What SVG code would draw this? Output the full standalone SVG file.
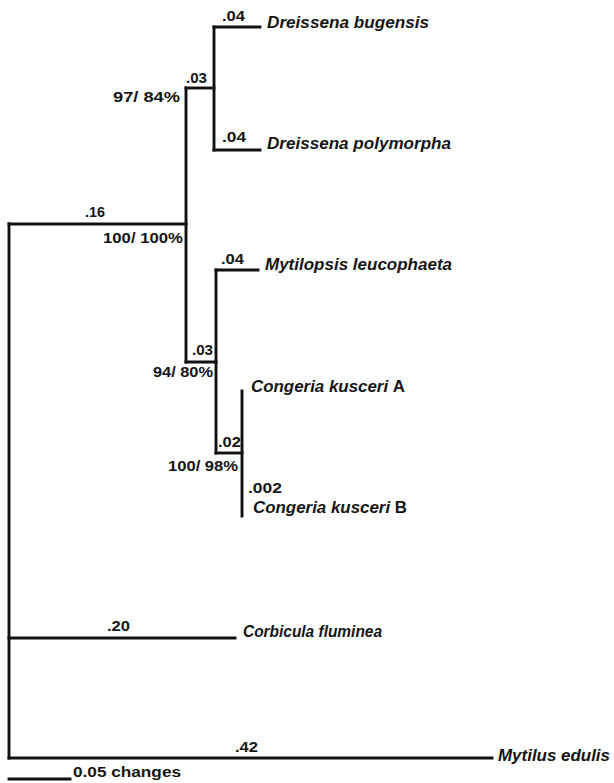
<svg xmlns="http://www.w3.org/2000/svg" width="614" height="783" viewBox="0 0 614 783">
<style>
.br{stroke:#111;stroke-width:2.9;fill:none;stroke-linecap:square}
text{font-family:"Liberation Sans",Arial,Helvetica,sans-serif;font-weight:bold;fill:#151515}
.sp{font-size:16px;font-style:italic}
.up{font-style:normal}
.num{font-size:14.5px}
</style>
<rect width="614" height="783" fill="#fff"/>
<g id="connectors">
<path class="br" d="M9,224 V758"/>
<path class="br" d="M9,224 H186"/>
<path class="br" d="M186,88 V362"/>
<path class="br" d="M186,88 H214"/>
<path class="br" d="M214,27 V150"/>
<path class="br" d="M214,27 H260"/>
<path class="br" d="M214,150 H260"/>
<path class="br" d="M186,362 H216"/>
<path class="br" d="M216,270 V453"/>
<path class="br" d="M216,270 H258"/>
<path class="br" d="M216,453 H242"/>
<path class="br" d="M242,391 V516"/>
<path class="br" d="M9,638 H235"/>
<path class="br" d="M9,758 H492"/>
</g>
<g id="node-dreissena-bugensis"><text class="sp" x="267" y="28" textLength="162" lengthAdjust="spacingAndGlyphs">Dreissena bugensis</text><text class="num" x="222" y="21" textLength="23" lengthAdjust="spacingAndGlyphs">.04</text></g>
<g id="node-dreissena-polymorpha"><text class="sp" x="267" y="149" textLength="184" lengthAdjust="spacingAndGlyphs">Dreissena polymorpha</text><text class="num" x="222" y="142" textLength="24" lengthAdjust="spacingAndGlyphs">.04</text></g>
<g id="node-dreissena"><text class="num" x="186" y="83" textLength="21" lengthAdjust="spacingAndGlyphs">.03</text><text class="num" x="113" y="102" textLength="67" lengthAdjust="spacingAndGlyphs">97/ 84%</text></g>
<g id="node-dreissenidae"><text class="num" x="85" y="217" textLength="20" lengthAdjust="spacingAndGlyphs">.16</text><text class="num" x="103" y="243" textLength="80" lengthAdjust="spacingAndGlyphs">100/ 100%</text></g>
<g id="node-mytilopsis-leucophaeta"><text class="sp" x="265" y="270" textLength="187" lengthAdjust="spacingAndGlyphs">Mytilopsis leucophaeta</text><text class="num" x="221" y="264" textLength="23" lengthAdjust="spacingAndGlyphs">.04</text></g>
<g id="node-mytilopsis-congeria"><text class="num" x="192" y="355" textLength="21" lengthAdjust="spacingAndGlyphs">.03</text><text class="num" x="153" y="377" textLength="60" lengthAdjust="spacingAndGlyphs">94/ 80%</text></g>
<g id="node-congeria"><text class="num" x="218" y="447" textLength="23" lengthAdjust="spacingAndGlyphs">.02</text><text class="num" x="168" y="471" textLength="70" lengthAdjust="spacingAndGlyphs">100/ 98%</text></g>
<g id="node-congeria-kusceri-a"><text class="sp" x="251" y="392" textLength="154" lengthAdjust="spacingAndGlyphs">Congeria kusceri <tspan class="up">A</tspan></text></g>
<g id="node-congeria-kusceri-b"><text class="num" x="248" y="493" textLength="34" lengthAdjust="spacingAndGlyphs">.002</text><text class="sp" x="253" y="513" textLength="154" lengthAdjust="spacingAndGlyphs">Congeria kusceri <tspan class="up">B</tspan></text></g>
<g id="node-corbicula-fluminea"><text class="num" x="107" y="631" textLength="23" lengthAdjust="spacingAndGlyphs">.20</text><text class="sp" x="243" y="637" textLength="139" lengthAdjust="spacingAndGlyphs">Corbicula fluminea</text></g>
<g id="node-mytilus-edulis"><text class="num" x="235" y="752" textLength="23" lengthAdjust="spacingAndGlyphs">.42</text><text class="sp" x="498" y="761" textLength="112" lengthAdjust="spacingAndGlyphs">Mytilus edulis</text></g>
<g id="scale-bar"><path class="br" d="M9,779 H70"/><text class="num" x="73" y="777" textLength="108" lengthAdjust="spacingAndGlyphs">0.05 changes</text></g>
</svg>
